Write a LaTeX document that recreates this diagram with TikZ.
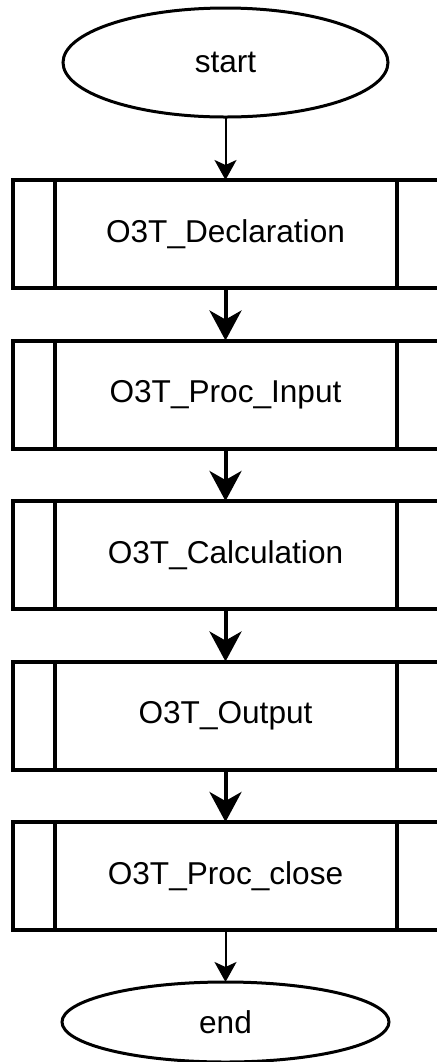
\documentclass[tikz,border=0pt]{standalone}
\usepackage{fontspec}
\setmainfont{Liberation Sans}
\usepackage{tikz}
\usetikzlibrary{shapes.geometric, arrows.meta, positioning}

\begin{document}
\begin{tikzpicture}[
    node distance=26.25pt,
    startstop/.style={ellipse, minimum width=162.5pt, minimum height=54.5pt, inner sep=0pt, outer sep=0pt, align=center, draw=black, line width=1.5pt, font=\fontsize{15.8}{19}\selectfont},
    subproc/.style={rectangle, minimum width=213pt, minimum height=54pt, outer sep=0pt, align=center, draw=black, line width=2pt, font=\fontsize{15.8}{19}\selectfont,
        path picture={
            \draw[line width=2pt] ([xshift=21pt]path picture bounding box.north west) -- ([xshift=21pt]path picture bounding box.south west);
            \draw[line width=2pt] ([xshift=-21pt]path picture bounding box.north east) -- ([xshift=-21pt]path picture bounding box.south east);
        }},
    thinarrow/.style={line width=1pt, -{Stealth[length=10pt, width=11pt, inset=2.5pt]}},
    thickarrow/.style={line width=2pt, -{Stealth[length=15pt, width=16pt, inset=4.5pt]}}
]

\useasboundingbox (0,0) rectangle (218.5pt,-531pt);

\node (start) [startstop] at (112.75pt,-31.25pt) {start};
\node (pro1) [subproc, below=31.5pt of start] {O3T\_Declaration};
\node (pro2) [subproc, below=of pro1] {O3T\_Proc\_Input};
\node (pro3) [subproc, below=of pro2] {O3T\_Calculation};
\node (pro4) [subproc, below=of pro3] {O3T\_Output};
\node (pro5) [subproc, below=of pro4] {O3T\_Proc\_close};
\node (stop) [startstop, minimum width=163.5pt, minimum height=40pt, below=26pt of pro5] {end};

\draw [thinarrow] (start) -- (pro1);
\draw [thickarrow] (pro1) -- (pro2);
\draw [thickarrow] (pro2) -- (pro3);
\draw [thickarrow] (pro3) -- (pro4);
\draw [thickarrow] (pro4) -- (pro5);
\draw [thinarrow] (pro5) -- (stop);

\end{tikzpicture}
\end{document}
